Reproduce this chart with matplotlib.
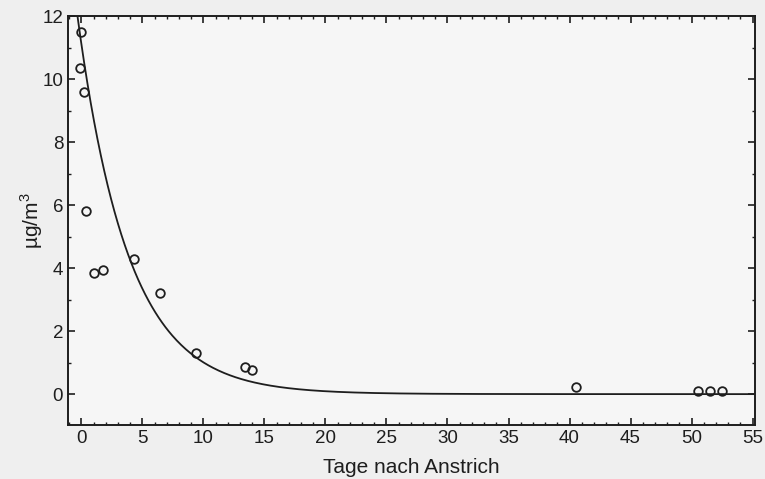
import numpy as np
import matplotlib.pyplot as plt
from matplotlib.ticker import MultipleLocator

# measured concentrations (days after painting, ug/m3)
tage = [0.0, -0.15, 0.2, 0.4, 1.0, 1.8, 4.3, 6.4, 9.4, 13.4, 14.0, 40.5, 50.5, 51.5, 52.5]
konz = [11.5, 10.35, 9.6, 5.8, 3.85, 3.95, 4.3, 3.2, 1.3, 0.85, 0.75, 0.22, 0.1, 0.1, 0.1]

# exponential fit as drawn in the chart: y = a * exp(-k * t)
fit_a = 11.1
fit_k = 0.24

xticks = [0, 5, 10, 15, 20, 25, 30, 35, 40, 45, 50, 55]
yticks = [0, 2, 4, 6, 8, 10, 12]

plt.rcParams['font.family'] = ['Liberation Sans', 'DejaVu Sans']
plt.rcParams['mathtext.fontset'] = 'custom'
plt.rcParams['mathtext.rm'] = 'Liberation Sans'

fig = plt.figure(figsize=(7.65, 4.79), dpi=100, facecolor='#efefef')
ax = fig.add_axes([68 / 765, 1 - 425 / 479, (755 - 68) / 765, (425 - 16) / 479])
ax.set_facecolor('#f6f6f6')

t = np.linspace(-0.35, 55.2, 600)
ax.plot(t, fit_a * np.exp(-fit_k * t), color='#1e1e1e', lw=1.3)
ax.plot(tage, konz, 'o', ms=6.2, mfc='none', mec='#1e1e1e', mew=1.3)

ax.set_xlim(-1.1, 55.2)
ax.set_ylim(-0.98, 12)
ax.set_xticks(xticks)
ax.set_yticks(yticks)
ax.xaxis.set_minor_locator(MultipleLocator(1))
ax.yaxis.set_minor_locator(MultipleLocator(1))
ax.tick_params(which='both', direction='in', top=True, right=True, colors='#1e1e1e', labelsize=13.5)
ax.tick_params(which='major', length=5, width=1.2)
ax.tick_params(which='minor', length=2.5, width=1.0)
for s in ax.spines.values():
    s.set_linewidth(1.4)
    s.set_color('#1e1e1e')

ax.set_xlabel('Tage nach Anstrich', fontsize=15, color='#1e1e1e', labelpad=8)
ax.set_ylabel('µg/m$^3$', fontsize=15, color='#1e1e1e', labelpad=-2)

fig.savefig('out.png', dpi=100, facecolor=fig.get_facecolor())
